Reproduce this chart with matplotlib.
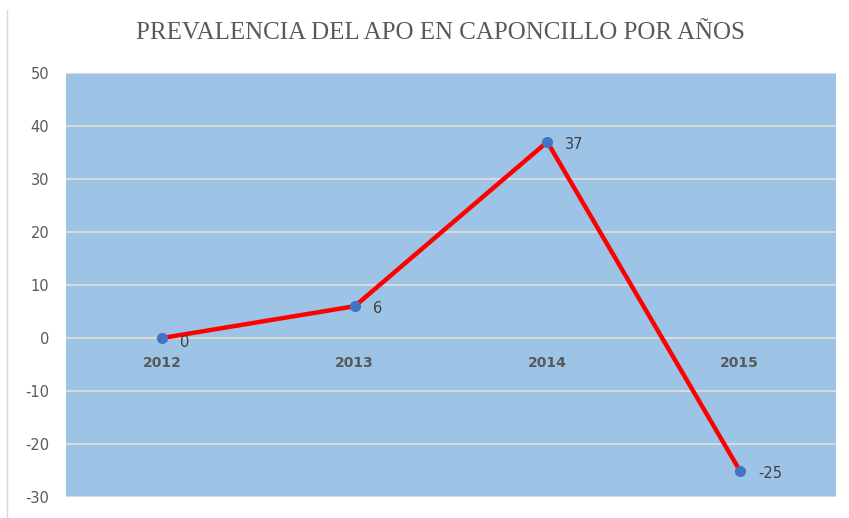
import matplotlib.pyplot as plt
import numpy as np

years = ['2012', '2013', '2014', '2015']
values = [0, 6, 37, -25]
yticks = [-30, -20, -10, 0, 10, 20, 30, 40, 50]

fig = plt.figure(figsize=(8.49, 5.18), dpi=100)
ax = fig.add_axes([66 / 849, 1 - 497 / 518, 770 / 849, 424 / 518])

ax.set_facecolor('#9DC3E6')
x = np.arange(len(years))
ax.plot(x, values, color='#FF0000', lw=3.2, zorder=3, solid_capstyle='round')
ax.plot(x, values, 'o', color='#4472C4', ms=7, zorder=4)

ax.set_xlim(-0.5, len(years) - 0.5)
ax.set_ylim(-30, 50)
ax.set_yticks(yticks)
ax.set_yticklabels([str(v) for v in yticks], fontsize=10.5, color='#595959')
ax.set_xticks([])
ax.grid(axis='y', color='#D9D9D9', lw=1.5, zorder=1)
ax.tick_params(axis='y', length=0, pad=12)
for s in ax.spines.values():
    s.set_visible(False)

# category labels sit under the zero line
for xi, yr in zip(x, years):
    ax.annotate(yr, (xi, 0), xytext=(0, -18), textcoords='offset points',
                ha='center', va='center', fontsize=10, fontweight='bold', color='#595959')

# data labels
for xi, v in zip(x, values):
    dy = -3 if v == 0 else -2
    ax.annotate(str(v), (xi, v), xytext=(13, dy), textcoords='offset points',
                ha='left', va='center', fontsize=10.5, color='#404040')

fig.text(440 / 849, 1 - 33 / 518, 'PREVALENCIA DEL APO EN CAPONCILLO POR AÑOS',
         ha='center', va='center', fontsize=18, color='#595959', family='Liberation Serif')

fig.add_artist(plt.Line2D([7 / 849, 7 / 849], [0, 1 - 10 / 518], color='#D9D9D9', lw=1))

plt.savefig('out.png', dpi=100)
